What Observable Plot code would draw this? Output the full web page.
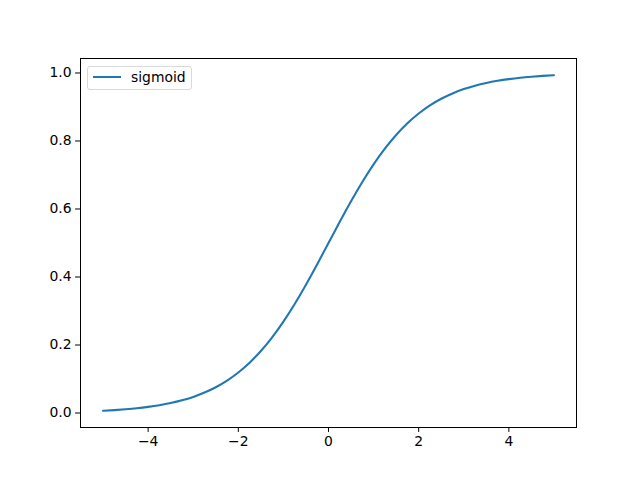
<!DOCTYPE html>
<html>
<head>
<meta charset="utf-8">
<script src="https://cdn.jsdelivr.net/npm/d3@7"></script>
<script src="https://cdn.jsdelivr.net/npm/@observablehq/plot@0.6"></script>
<style>
  html, body { margin: 0; padding: 0; background: #fff; }
  #wrap { position: relative; width: 640px; height: 480px; font-family: "DejaVu Sans", sans-serif; }
  #legend { position: absolute; left: 87px; top: 66px; width: 105px; height: 24px; border: 1px solid #d9d9d9; border-radius: 3px; background: rgba(255,255,255,0.8); box-sizing: border-box; }
  #legend .swatch { position: absolute; left: 5px; top: 9px; width: 28px; height: 2px; background: #1f77b4; }
  #legend .label { position: absolute; left: 43px; top: 2px; font-size: 13.9px; color: #000; line-height: 16px; }
</style>
</head>
<body>
<div id="wrap"><div id="legend"><div class="swatch"></div><div class="label">sigmoid</div></div></div>
<script>
const xs = [-5, -4.75, -4.5, -4.25, -4, -3.75, -3.5, -3.25, -3, -2.75, -2.5, -2.25, -2, -1.75, -1.5, -1.25, -1, -0.75, -0.5, -0.25,
  0, 0.25, 0.5, 0.75, 1, 1.25, 1.5, 1.75, 2, 2.25, 2.5, 2.75, 3, 3.25, 3.5, 3.75, 4, 4.25, 4.5, 4.75, 5];
const ys = [0.0067, 0.0086, 0.0110, 0.0140, 0.0180, 0.0230, 0.0293, 0.0373, 0.0474, 0.0601, 0.0759, 0.0953, 0.1192, 0.1480, 0.1824, 0.2227, 0.2689, 0.3208, 0.3775, 0.4378,
  0.5, 0.5622, 0.6225, 0.6792, 0.7311, 0.7773, 0.8176, 0.8520, 0.8808, 0.9047, 0.9241, 0.9399, 0.9526, 0.9627, 0.9707, 0.9770, 0.9820, 0.9860, 0.9890, 0.9914, 0.9933];
const xTicks = [-4, -2, 0, 2, 4];
const yTicks = [0.0, 0.2, 0.4, 0.6, 0.8, 1.0];
const seriesName = "sigmoid";

const data = xs.map((x, i) => ({x, y: ys[i]}));
const minus = s => String(s).replace("-", "\u2212");

const chart = Plot.plot({
  width: 640,
  height: 480,
  marginLeft: 80,
  marginRight: 64,
  marginTop: 58,
  marginBottom: 53,
  style: {fontFamily: "DejaVu Sans, sans-serif", fontSize: "13.9px", color: "#000", background: "#fff"},
  x: {domain: [-5.5, 5.5], ticks: xTicks, tickFormat: d => minus(d), tickSize: 4.9, tickPadding: 4, label: null},
  y: {domain: [-0.0426, 1.0426], ticks: yTicks, tickFormat: d => d.toFixed(1), tickSize: 4.9, tickPadding: 4, label: null},
  marks: [
    Plot.line(data, {x: "x", y: "y", stroke: "#1f77b4", strokeWidth: 2.08, curve: "monotone-x"}),
    Plot.frame({stroke: "#000", strokeWidth: 1})
  ]
});
document.getElementById("wrap").prepend(chart);
chart.style.position = "absolute";
chart.style.left = "0";
chart.style.top = "0";
</script>
</body>
</html>
